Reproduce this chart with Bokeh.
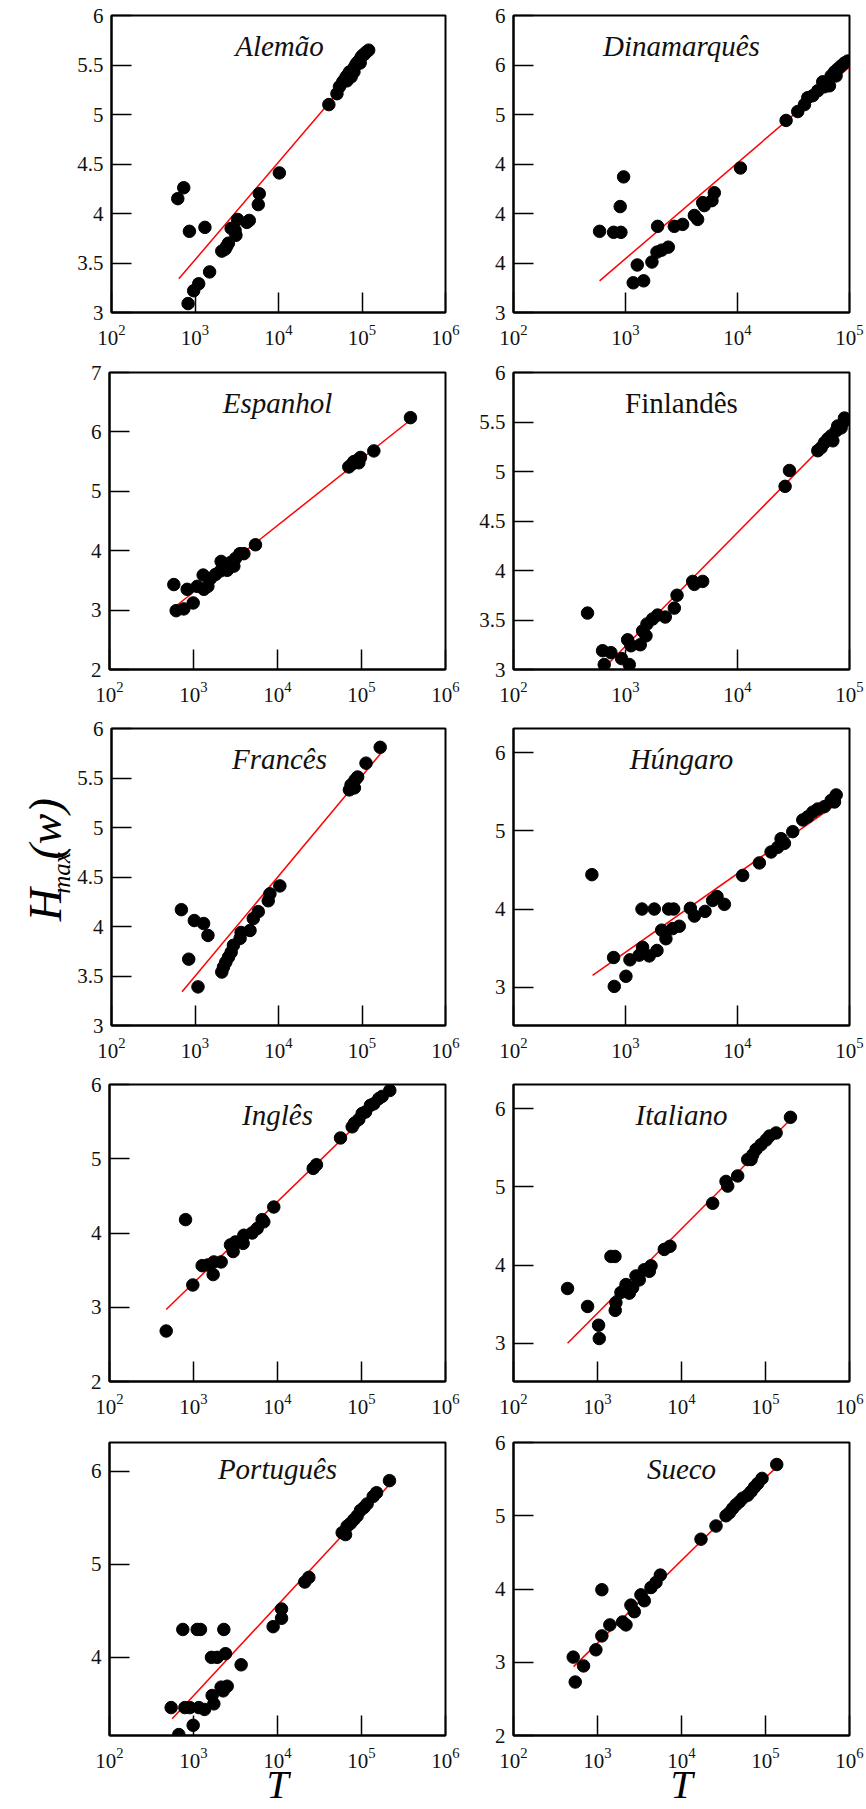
from math import pi
from bokeh.plotting import figure
from bokeh.layouts import row, column
from bokeh.models import FixedTicker, Label, Range1d, Spacer
from bokeh.core.properties import value
from bokeh.embed import file_html
from bokeh.resources import INLINE

FONT = "Liberation Serif"

# ---------------- data (T = number of tokens, H = max entropy) ----------------
alemao_T = [622, 733, 857, 1315, 826, 964, 1107, 1496, 2094, 2296, 2399, 2512, 2710, 3020, 3090, 3236,
            4169, 4467, 5728, 5888, 10230, 40090, 50120, 53700, 58900, 61660, 64570, 67610, 70790, 74130,
            77620, 81280, 85110, 89130, 93330, 97720, 102300, 107200, 112200, 120200, 66000, 80000, 95000]
alemao_H = [4.15, 4.26, 3.82, 3.86, 3.09, 3.22, 3.29, 3.41, 3.62, 3.64, 3.67, 3.70, 3.85, 3.83, 3.78, 3.94,
            3.91, 3.93, 4.09, 4.20, 4.41, 5.10, 5.21, 5.28, 5.33, 5.35, 5.38, 5.40, 5.43, 5.38,
            5.45, 5.48, 5.51, 5.53, 5.55, 5.58, 5.60, 5.61, 5.63, 5.65, 5.34, 5.43, 5.52]
alemao_fit_T = [640, 120000]
alemao_fit_H = [3.34, 5.585]

dinamarques_T = [587, 783, 910, 897, 962, 1172, 1452, 1274, 1722, 1910, 2104, 2410, 1936, 2729, 3236, 4121,
                 4406, 4887, 5058, 5916, 6209, 10620, 27160, 34510, 39630, 42360, 46990, 52120, 57680, 59700,
                 66220, 68550, 73450, 78520, 84140, 90160, 96610, 75860]
dinamarques_H = [3.82, 3.81, 3.81, 4.07, 4.37, 3.30, 3.32, 3.48, 3.51, 3.61, 3.63, 3.66, 3.87, 3.87, 3.89, 3.98,
                 3.94, 4.11, 4.08, 4.13, 4.21, 4.46, 4.94, 5.03, 5.10, 5.17, 5.19, 5.24, 5.33, 5.28,
                 5.29, 5.39, 5.43, 5.46, 5.49, 5.52, 5.54, 5.39]
dinamarques_fit_T = [587, 100000]
dinamarques_fit_H = [3.32, 5.48]

espanhol_T = [583, 622, 767, 991, 841, 1107, 1327, 1303, 1483, 1592, 1828, 2094, 2133, 2518, 2754, 3020,
              3162, 3565, 3981, 5470, 70630, 77450, 81100, 88720, 97270, 92900, 140300, 382800]
espanhol_H = [3.43, 2.99, 3.02, 3.12, 3.35, 3.40, 3.35, 3.59, 3.40, 3.53, 3.60, 3.66, 3.82, 3.67, 3.80, 3.74,
              3.87, 3.95, 3.95, 4.10, 5.41, 5.46, 5.50, 5.52, 5.57, 5.48, 5.68, 6.24]
espanhol_fit_T = [583, 382800]
espanhol_fit_H = [3.04, 6.20]

finlandes_T = [458, 624, 741, 646, 923, 1081, 1045, 1119, 1355, 1422, 1524, 1556, 1746, 1936, 2265, 2729,
               2884, 4121, 3980, 4887, 26610, 29110, 52120, 55850, 59700, 63970, 68550, 70960, 75860, 78520,
               84140, 90160, 90160]
finlandes_H = [3.57, 3.19, 3.17, 3.05, 3.11, 3.05, 3.30, 3.24, 3.25, 3.39, 3.34, 3.46, 3.51, 3.55, 3.53, 3.62,
               3.75, 3.86, 3.89, 3.89, 4.85, 5.01, 5.21, 5.24, 5.29, 5.33, 5.36, 5.31, 5.41, 5.46,
               5.44, 5.51, 5.54]
finlandes_fit_T = [637, 90160]
finlandes_fit_H = [3.01, 5.48]

frances_T = [687, 982, 1268, 1429, 841, 1086, 2094, 2193, 2339, 2518, 2710, 2884, 3467, 3565, 4560, 4989,
             5728, 7534, 7889, 10380, 70630, 73960, 77450, 82600, 88720, 81100, 111700, 165200]
frances_H = [4.17, 4.06, 4.03, 3.91, 3.67, 3.39, 3.54, 3.59, 3.64, 3.69, 3.74, 3.81, 3.88, 3.94, 3.96, 4.08,
             4.15, 4.26, 4.33, 4.41, 5.38, 5.43, 5.44, 5.48, 5.51, 5.40, 5.65, 5.81]
frances_fit_T = [700, 168300]
frances_fit_H = [3.34, 5.75]

hungaro_T = [501, 794, 1009, 783, 1096, 1327, 1422, 1629, 1910, 1403, 1807, 2427, 2692, 2104, 2296, 2636,
             3020, 3793, 4121, 5129, 5998, 6561, 7638, 11120, 15670, 19950, 22860, 24490, 26240, 31120,
             38280, 42360, 46990, 52120, 59700, 68550, 76030, 73450]
hungaro_H = [4.44, 3.01, 3.14, 3.38, 3.35, 3.41, 3.51, 3.40, 3.47, 4.00, 4.00, 4.00, 4.00, 3.73, 3.62, 3.75,
             3.78, 4.01, 3.91, 3.97, 4.11, 4.16, 4.06, 4.43, 4.59, 4.73, 4.79, 4.90, 4.84, 4.99,
             5.14, 5.18, 5.24, 5.28, 5.31, 5.39, 5.46, 5.37]
hungaro_fit_T = [508, 76030]
hungaro_fit_H = [3.15, 5.34]

ingles_T = [473, 804, 982, 1268, 1483, 1714, 1746, 2133, 2754, 2965, 3162, 3899, 3981, 4989, 5728, 6561,
            6871, 9036, 26610, 29110, 56230, 77450, 82600, 92900, 101900, 111700, 127900, 140300, 160700,
            176200, 217300]
ingles_H = [2.68, 4.18, 3.30, 3.56, 3.57, 3.44, 3.61, 3.61, 3.84, 3.75, 3.88, 3.86, 3.97, 4.00, 4.06, 4.18,
            4.15, 4.35, 4.87, 4.92, 5.28, 5.43, 5.48, 5.53, 5.61, 5.63, 5.72, 5.74, 5.81,
            5.84, 5.92]
ingles_fit_T = [473, 217300]
ingles_fit_H = [2.97, 5.89]

italiano_T = [440, 762, 1030, 1050, 1445, 1614, 1626, 1656, 1901, 2183, 2388, 2618, 2871, 3141, 3606, 4140,
              4335, 6237, 7295, 23500, 33880, 35480, 46670, 61380, 70470, 77270, 88510, 101600, 111400,
              133700, 67300, 198200]
italiano_H = [3.70, 3.47, 3.23, 3.06, 4.11, 4.11, 3.42, 3.52, 3.65, 3.75, 3.64, 3.71, 3.86, 3.81, 3.94, 3.92,
              3.99, 4.20, 4.24, 4.79, 5.07, 5.01, 5.14, 5.35, 5.41, 5.48, 5.54, 5.60, 5.65,
              5.69, 5.35, 5.89]
italiano_fit_T = [440, 192800]
italiano_fit_H = [3.00, 5.85]

portugues_T = [542, 668, 746, 1107, 1211, 2296, 789, 904, 991, 1156, 1352, 1667, 1746, 1637, 1914, 2404,
               2133, 2254, 2518, 3690, 8872, 11170, 11170, 21130, 23610, 58880, 64570, 67450, 73960, 81100,
               88720, 97270, 106700, 116700, 137700, 151000, 215300]
portugues_H = [3.46, 3.17, 4.30, 4.30, 4.30, 4.30, 3.46, 3.46, 3.27, 3.46, 3.44, 3.59, 3.50, 4.00, 4.00, 4.04,
               3.68, 3.64, 3.69, 3.92, 4.33, 4.42, 4.52, 4.81, 4.86, 5.34, 5.32, 5.41, 5.44, 5.48,
               5.52, 5.58, 5.61, 5.65, 5.73, 5.77, 5.90]
portugues_fit_T = [557, 211300]
portugues_fit_H = [3.34, 5.85]

sueco_T = [514, 543, 682, 957, 1127, 1127, 1403, 1991, 2183, 2500, 2742, 3289, 3606, 4335, 4966, 5598,
           17060, 25760, 33880, 37150, 40740, 44570, 48870, 53580, 61380, 67300, 73790, 80910, 90990, 136100]
sueco_H = [3.07, 2.73, 2.95, 3.17, 3.36, 3.99, 3.51, 3.55, 3.51, 3.78, 3.69, 3.92, 3.84, 4.02, 4.09, 4.19,
           4.68, 4.86, 5.00, 5.04, 5.10, 5.15, 5.19, 5.24, 5.28, 5.33, 5.39, 5.44, 5.51, 5.70]
sueco_fit_T = [519, 133700]
sueco_fit_H = [2.94, 5.66]

# ---------------- axes: ticks and tick labels ----------------
x_ticks_6 = [1e2, 1e3, 1e4, 1e5, 1e6]
x_ticks_5 = [1e2, 1e3, 1e4, 1e5]

y_ticks_half = [3, 3.5, 4, 4.5, 5, 5.5, 6]
y_labels_half = ["3", "3.5", "4", "4.5", "5", "5.5", "6"]
y_labels_dinamarques = ["3", "4", "4", "4", "5", "6", "6"]
y_ticks_2_7 = [2, 3, 4, 5, 6, 7]
y_labels_2_7 = ["2", "3", "4", "5", "6", "7"]
y_ticks_3_6 = [3, 4, 5, 6]
y_labels_3_6 = ["3", "4", "5", "6"]
y_ticks_2_6 = [2, 3, 4, 5, 6]
y_labels_2_6 = ["2", "3", "4", "5", "6"]
y_ticks_4_6 = [4, 5, 6]
y_labels_4_6 = ["4", "5", "6"]

panels = [
    ("Alemão", True, alemao_T, alemao_H, alemao_fit_T, alemao_fit_H, x_ticks_6, (3, 6), y_ticks_half, y_labels_half),
    ("Dinamarquês", True, dinamarques_T, dinamarques_H, dinamarques_fit_T, dinamarques_fit_H, x_ticks_5, (3, 6), y_ticks_half, y_labels_dinamarques),
    ("Espanhol", True, espanhol_T, espanhol_H, espanhol_fit_T, espanhol_fit_H, x_ticks_6, (2, 7), y_ticks_2_7, y_labels_2_7),
    ("Finlandês", False, finlandes_T, finlandes_H, finlandes_fit_T, finlandes_fit_H, x_ticks_5, (3, 6), y_ticks_half, y_labels_half),
    ("Francês", True, frances_T, frances_H, frances_fit_T, frances_fit_H, x_ticks_6, (3, 6), y_ticks_half, y_labels_half),
    ("Húngaro", True, hungaro_T, hungaro_H, hungaro_fit_T, hungaro_fit_H, x_ticks_5, (2.51, 6.31), y_ticks_3_6, y_labels_3_6),
    ("Inglês", True, ingles_T, ingles_H, ingles_fit_T, ingles_fit_H, x_ticks_6, (2, 6), y_ticks_2_6, y_labels_2_6),
    ("Italiano", True, italiano_T, italiano_H, italiano_fit_T, italiano_fit_H, x_ticks_6, (2.51, 6.31), y_ticks_3_6, y_labels_3_6),
    ("Português", True, portugues_T, portugues_H, portugues_fit_T, portugues_fit_H, x_ticks_6, (3.16, 6.31), y_ticks_4_6, y_labels_4_6),
    ("Sueco", True, sueco_T, sueco_H, sueco_fit_T, sueco_fit_H, x_ticks_6, (2, 6), y_ticks_2_6, y_labels_2_6),
]

FRAME_W, FRAME_H = 336, 297
LABEL_W = 74
row_heights = [358, 357, 356, 356, 382]
row_tops = [15, 14, 13, 13, 15]


def make_panel(idx, spec):
    name, italic, T, H, fT, fH, xt, ylim, yt, yl = spec
    r, col = divmod(idx, 2)
    if col == 0:
        lb, rb = 35, 22
    else:
        lb, rb = 46, 15
    h = row_heights[r]
    tb = row_tops[r]
    bb = h - tb - FRAME_H
    p = figure(width=lb + FRAME_W + rb, height=h, x_axis_type="log",
               x_range=Range1d(xt[0], xt[-1]), y_range=Range1d(*ylim),
               output_backend="svg", toolbar_location=None, title=None,
               min_border_left=lb, min_border_right=rb, min_border_top=tb, min_border_bottom=bb)
    p.grid.visible = False
    p.outline_line_color = "black"
    p.outline_line_width = 2
    p.outline_line_alpha = 1

    p.xaxis.ticker = FixedTicker(ticks=xt)
    p.yaxis.ticker = FixedTicker(ticks=yt)
    p.yaxis.major_label_overrides = {t: s for t, s in zip(yt, yl)}
    for ax in (p.xaxis, p.yaxis):
        ax.axis_line_width = 2
        ax.axis_line_color = "black"
        ax.major_tick_in = 20
        ax.major_tick_out = 0
        ax.major_tick_line_width = 1.5
        ax.major_tick_line_color = "black"
        ax.minor_tick_line_color = None
        ax.major_label_text_font = FONT
        ax.major_label_text_font_size = "21px"
        ax.major_label_text_color = "#111111"
    p.yaxis.major_label_standoff = 8
    p.xaxis.major_label_standoff = 12

    p.line(fT, fH, color="red", line_width=1.5)
    p.scatter(T, H, size=12.5, color="black")

    p.add_layout(Label(x=FRAME_W / 2, y=FRAME_H - 30, x_units="screen", y_units="screen",
                       text=name, text_font=FONT, text_font_size="29px",
                       text_font_style="italic" if italic else "normal",
                       text_align="center", text_baseline="alphabetic", text_color="#111111"))

    if r == 4:
        p.xaxis.axis_label = "T"
        p.xaxis.axis_label_text_font = FONT
        p.xaxis.axis_label_text_font_size = "40px"
        p.xaxis.axis_label_text_font_style = "italic"
        p.xaxis.axis_label_text_color = "black"
        p.xaxis.axis_label_standoff = -9
    return p


def make_ylabel(h):
    # a frameless strip whose data space is its own pixel grid
    f = figure(width=LABEL_W, height=h, x_range=Range1d(0, LABEL_W), y_range=Range1d(0, h),
               output_backend="svg", toolbar_location=None, title=None,
               x_axis_location=None, y_axis_location=None, min_border=0)
    f.grid.visible = False
    f.outline_line_color = None
    for txt, sx, sy, fs in (("H", 45, 125, "46px"), ("max", 61, 158, "25px"), ("(w)", 45, 199, "46px")):
        f.text(x=[sx], y=[sy], text=[txt], angle=pi / 2, text_font=value(FONT),
               text_font_size=value(fs), text_font_style="italic", text_align="left",
               text_baseline="alphabetic", text_color="black")
    return f


figs = [make_panel(i, s) for i, s in enumerate(panels)]
rows = []
for r in range(5):
    lead = make_ylabel(row_heights[r]) if r == 2 else Spacer(width=LABEL_W, height=row_heights[r])
    rows.append(row(lead, figs[2 * r], figs[2 * r + 1]))
layout = column(*rows)

open("out.html", "w").write(file_html(layout, INLINE))
